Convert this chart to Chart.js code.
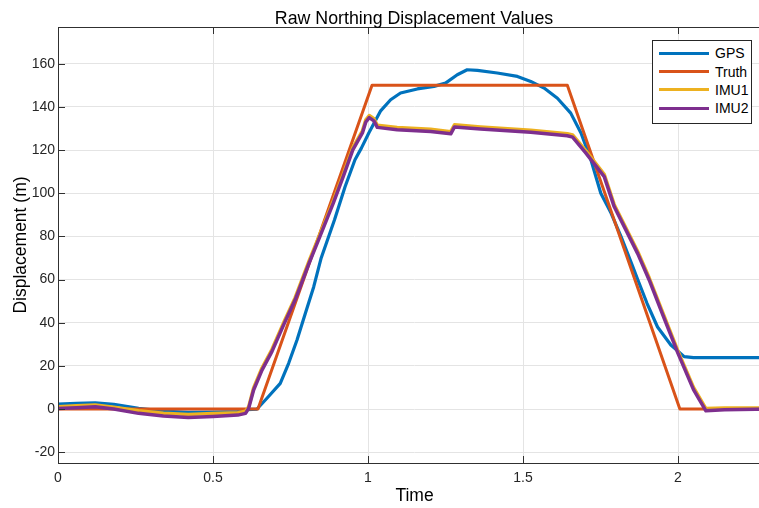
<!DOCTYPE html>
<html>
<head>
<meta charset="utf-8">
<script src="https://cdn.jsdelivr.net/npm/chart.js@4.4.0/dist/chart.umd.min.js"></script>
<style>
  html, body { margin: 0; padding: 0; background: #fff; }
  #wrap { position: relative; width: 759px; height: 508px; overflow: hidden; }
  #c { position: absolute; left: 0; top: 0; }
  #title { position: absolute; left: 214px; top: 9px; width: 400px; text-align: center;
           font-family: 'Liberation Sans', Arial, Helvetica, sans-serif; font-size: 17.8px; line-height: 18px; color: #000; white-space: nowrap; }
  #legend { position: absolute; left: 652px; top: 40px; width: 98px; height: 82px;
            border: 1px solid #262626; background: #fff; box-sizing: content-box;
            font-family: 'Liberation Sans', Arial, Helvetica, sans-serif; font-size: 14px; color: #000; }
  .row { position: absolute; left: 0; height: 18px; width: 98px; }
  .sw { position: absolute; left: 6px; top: 7.5px; width: 50px; height: 3px; }
  .lb { position: absolute; left: 62px; top: 0; line-height: 18px; }
</style>
</head>
<body>
<div id="wrap">
  <canvas id="c" width="771" height="508"></canvas>
  <div id="title"></div>
  <div id="legend"></div>
</div>
<script>
// ---- data ----
const seriesNames = ['GPS', 'Truth', 'IMU1', 'IMU2'];
const seriesColors = ['#0072BD', '#D95319', '#EDB120', '#7E2F8E'];

const gpsTime = [0, 0.06, 0.12, 0.18, 0.26, 0.34, 0.42, 0.5, 0.58, 0.61, 0.642, 0.674, 0.717, 0.744, 0.771, 0.798,
  0.825, 0.849, 0.892, 0.926, 0.958, 0.979, 1.003, 1.04, 1.073, 1.105, 1.159, 1.213, 1.25, 1.288, 1.32, 1.353,
  1.417, 1.482, 1.525, 1.568, 1.611, 1.654, 1.687, 1.719, 1.751, 1.784, 1.816, 1.854, 1.87, 1.9, 1.934, 1.977,
  2.02, 2.05, 2.3];
const gpsValues = [2.3, 2.6, 2.9, 2.2, 0.3, -0.9, -1.5, -1.4, -1.2, -0.3, 0, 5, 11.9, 21.2, 32, 44.4,
  56.7, 70, 87.7, 103, 115.5, 121, 128, 138, 143.3, 146.4, 148.3, 149.5, 151, 154.9, 157.2, 156.9,
  155.7, 154.1, 151.8, 148.7, 144, 137.1, 127.9, 115.5, 100, 90.8, 80, 66, 60, 49, 38, 29.7,
  24.3, 23.8, 23.8];

const truthTime = [0, 0.645, 1.013, 1.643, 2.006, 2.3];
const truthValues = [0, 0, 150, 150, 0, 0];

const imuTime = [0, 0.06, 0.12, 0.18, 0.26, 0.34, 0.42, 0.5, 0.58, 0.605, 0.615, 0.631, 0.658, 0.69, 0.73, 0.765,
  0.81, 0.845, 0.888, 0.92, 0.951, 0.982, 0.993, 1.004, 1.019, 1.03, 1.094, 1.202, 1.267, 1.279, 1.363, 1.525,
  1.643, 1.66, 1.703, 1.762, 1.794, 1.837, 1.87, 1.907, 1.95, 2.0, 2.05, 2.09, 2.15, 2.3];
const imu1Values = [1.1, 1.5, 1.9, 0.8, -0.8, -2.0, -2.5, -2.1, -1.7, -1.0, 1.0, 9.8, 19, 27.6, 40.7, 51.6,
  68.6, 81, 96.4, 108.7, 121.1, 128.9, 134, 136, 134.5, 131.5, 130.4, 129.6, 128.5, 131.7, 130.7, 129.2,
  127.6, 127, 119.6, 108.7, 94.8, 82.5, 73, 60.8, 45, 26.8, 10, 0.2, 0.5, 0.5];
const imu2Values = [0.2, 0.6, 1.1, 0, -2.0, -3.2, -3.9, -3.4, -2.8, -2.0, 0.3, 8.8, 18, 26.6, 39.7, 50.6,
  67.6, 80, 95.4, 107.7, 120.1, 127.9, 133, 135, 133.5, 130.5, 129.4, 128.6, 127.5, 130.7, 129.7, 128.2,
  126.6, 126, 118.6, 107.7, 93.8, 81.5, 72, 59.8, 44, 25.8, 9, -0.8, -0.3, 0];

const xTickValues = [0, 0.5, 1, 1.5, 2];
const yTickValues = [-20, 0, 20, 40, 60, 80, 100, 120, 140, 160];
const xRange = [0, 2.3];
const yRange = [-25, 177];

const titleText = 'Raw Northing Displacement Values';
const xTitle = 'Time';
const yTitle = 'Displacement (m)';

// ---- build ----
const FONT = "'Liberation Sans', Arial, Helvetica, sans-serif";
function pts(xs, ys) { return xs.map((x, i) => ({ x: x, y: ys[i] })); }

const datasets = [
  { label: seriesNames[0], data: pts(gpsTime, gpsValues), borderColor: seriesColors[0], borderWidth: 3.2, order: 3 },
  { label: seriesNames[1], data: pts(truthTime, truthValues), borderColor: seriesColors[1], borderWidth: 3, order: 2 },
  { label: seriesNames[2], data: pts(imuTime, imu1Values), borderColor: seriesColors[2], borderWidth: 3.5, order: 1 },
  { label: seriesNames[3], data: pts(imuTime, imu2Values), borderColor: seriesColors[3], borderWidth: 3.5, order: 0 }
].map(d => Object.assign(d, { showLine: true, pointRadius: 0, tension: 0, fill: false, borderJoinStyle: 'round' }));

const axesBox = {
  id: 'axesBox',
  afterDraw(chart) {
    const { ctx, chartArea: a, scales } = chart;
    ctx.save();
    ctx.strokeStyle = '#303030';
    ctx.lineWidth = 1;
    ctx.beginPath();
    xTickValues.forEach(v => {
      const px = Math.round(scales.x.getPixelForValue(v)) + 0.5;
      ctx.moveTo(px, a.bottom); ctx.lineTo(px, a.bottom - 7);
      ctx.moveTo(px, a.top); ctx.lineTo(px, a.top + 7);
    });
    yTickValues.forEach(v => {
      const py = Math.round(scales.y.getPixelForValue(v)) + 0.5;
      ctx.moveTo(a.left, py); ctx.lineTo(a.left + 7, py);
      ctx.moveTo(a.right, py); ctx.lineTo(a.right - 7, py);
    });
    ctx.stroke();
    ctx.strokeRect(Math.round(a.left) + 0.5, Math.round(a.top) + 0.5,
                   Math.round(a.right - a.left), Math.round(a.bottom - a.top));
    ctx.restore();
  }
};

new Chart(document.getElementById('c'), {
  type: 'scatter',
  data: { datasets },
  options: {
    responsive: false,
    animation: false,
    devicePixelRatio: 1,
    layout: { padding: { top: 27, left: 0, right: 0, bottom: 0 } },
    plugins: {
      legend: { display: false },
      tooltip: { enabled: false },
      title: { display: false }
    },
    scales: {
      x: {
        type: 'linear', min: xRange[0], max: xRange[1],
        afterBuildTicks: s => { s.ticks = xTickValues.map(v => ({ value: v })); },
        afterFit: s => { s.height = 45; },
        grid: { color: '#e4e4e4', drawTicks: false, lineWidth: 1 },
        border: { display: false },
        ticks: { color: '#262626', font: { family: FONT, size: 14 }, padding: 7, maxRotation: 0,
                 autoSkip: false, callback: v => String(v) },
        title: { display: true, text: xTitle, color: '#000', font: { family: FONT, size: 17.5, lineHeight: 1 },
                 padding: { top: 0, bottom: 3.5 } }
      },
      y: {
        type: 'linear', min: yRange[0], max: yRange[1],
        afterBuildTicks: s => { s.ticks = yTickValues.map(v => ({ value: v })); },
        afterFit: s => { s.width = 58; },
        grid: { color: '#e4e4e4', drawTicks: false, lineWidth: 1 },
        border: { display: false },
        ticks: { color: '#262626', font: { family: FONT, size: 14 }, padding: 3, autoSkip: false,
                 callback: v => String(v) },
        title: { display: true, text: yTitle, color: '#000', font: { family: FONT, size: 17.5, lineHeight: 1 },
                 padding: { top: 12, bottom: 0 } }
      }
    }
  },
  plugins: [axesBox]
});

document.getElementById('title').textContent = titleText;

// legend (HTML)
const leg = document.getElementById('legend');
const rowCenters = [12.2, 30.5, 48.8, 67.2];
seriesNames.forEach((n, i) => {
  const r = document.createElement('div');
  r.className = 'row';
  r.style.top = (rowCenters[i] - 9) + 'px';
  const sw = document.createElement('div');
  sw.className = 'sw';
  sw.style.background = seriesColors[i];
  const lb = document.createElement('span');
  lb.className = 'lb';
  lb.textContent = n;
  r.appendChild(sw); r.appendChild(lb);
  leg.appendChild(r);
});
</script>
</body>
</html>
